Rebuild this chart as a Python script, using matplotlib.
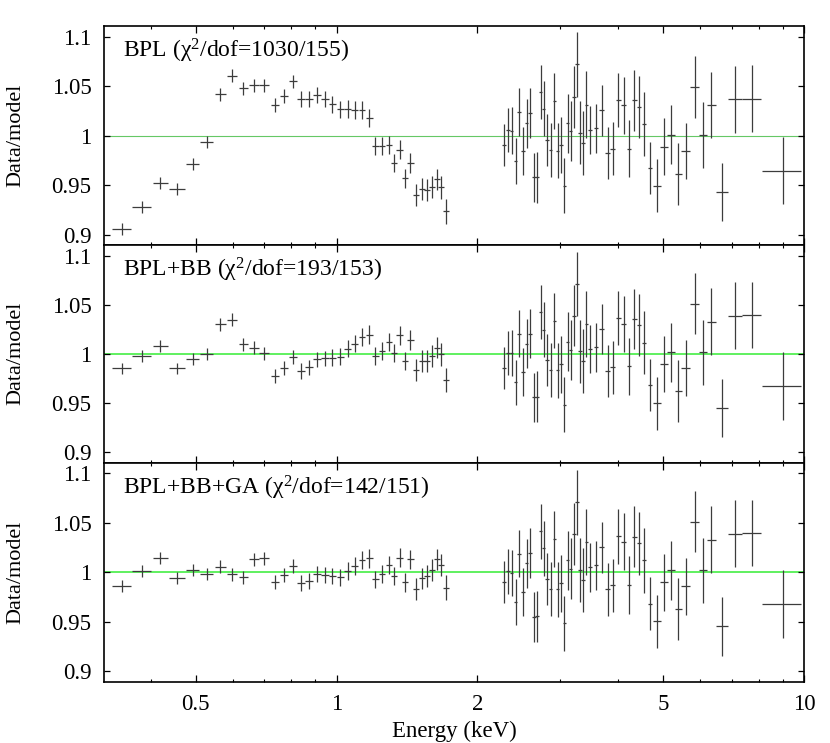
import matplotlib
matplotlib.use("Agg")
import matplotlib.pyplot as plt
from matplotlib.ticker import FixedLocator, NullFormatter, FixedFormatter

plt.rcParams['font.family'] = ['Liberation Serif', 'DejaVu Serif']
plt.rcParams['mathtext.fontset'] = 'custom'
plt.rcParams['mathtext.rm'] = 'Liberation Serif'
plt.rcParams['mathtext.it'] = 'Liberation Serif:italic'

# ---------------- data ----------------
energy_soft = [0.347, 0.383, 0.420, 0.455, 0.492, 0.527, 0.564, 0.598, 0.632, 0.666,
               0.700, 0.738, 0.772, 0.807, 0.839, 0.873, 0.909, 0.944, 0.979, 1.018,
               1.056, 1.094, 1.133, 1.176, 1.211, 1.252, 1.293, 1.329, 1.364, 1.404,
               1.439, 1.480, 1.522, 1.560, 1.598, 1.641, 1.676, 1.715]
ewidth_soft = [0.017, 0.0175, 0.0155, 0.018, 0.015, 0.017, 0.0155, 0.015, 0.015, 0.016,
               0.016, 0.0155, 0.016, 0.016, 0.017, 0.017, 0.017, 0.017, 0.017, 0.017,
               0.017, 0.018, 0.018, 0.019, 0.019, 0.020, 0.020, 0.020, 0.021, 0.021,
               0.022, 0.022, 0.023, 0.023, 0.024, 0.024, 0.025, 0.025]
err_soft = [0.006, 0.006, 0.006, 0.006, 0.006, 0.006, 0.0065, 0.0065, 0.0065, 0.0065,
            0.0065, 0.007, 0.007, 0.007, 0.008, 0.008, 0.008, 0.008, 0.0085, 0.0085,
            0.009, 0.009, 0.009, 0.0095, 0.009, 0.009, 0.009, 0.009, 0.0095, 0.0095,
            0.010, 0.011, 0.011, 0.011, 0.011, 0.011, 0.0115, 0.0125]

energy_hard = [2.282, 2.327, 2.369, 2.416, 2.457, 2.505, 2.551, 2.593, 2.645, 2.685,
               2.733, 2.773, 2.819, 2.871, 2.923, 2.971, 3.021, 3.071, 3.122, 3.168,
               3.220, 3.268, 3.317, 3.366, 3.421, 3.489, 3.589, 3.690, 3.801, 3.895,
               4.005, 4.111, 4.222, 4.334, 4.441, 4.551, 4.680, 4.844, 5.022, 5.197,
               5.381, 5.587, 5.832, 6.074, 6.339, 6.685, 7.125, 7.735, 9.0]
ewidth_hard = [0.018, 0.019, 0.019, 0.019, 0.020, 0.020, 0.020, 0.021, 0.021, 0.021,
               0.022, 0.022, 0.023, 0.023, 0.023, 0.024, 0.024, 0.025, 0.025, 0.025,
               0.026, 0.026, 0.027, 0.027, 0.028, 0.035, 0.040, 0.042, 0.043, 0.044,
               0.045, 0.046, 0.048, 0.049, 0.050, 0.051, 0.053, 0.088, 0.092, 0.095,
               0.093, 0.129, 0.135, 0.125, 0.137, 0.195, 0.245, 0.365, 0.865]
err_hard = [0.0212, 0.0226, 0.0235, 0.0232, 0.024, 0.0244, 0.0247, 0.0252, 0.025, 0.0256,
            0.0274, 0.0278, 0.0266, 0.0273, 0.0283, 0.0278, 0.0286, 0.0281, 0.030, 0.0306,
            0.0313, 0.0328, 0.0322, 0.0325, 0.0337, 0.0244, 0.025, 0.0258, 0.0264, 0.0268,
            0.0276, 0.0286, 0.029, 0.0306, 0.0315, 0.0325, 0.0266, 0.0271, 0.0288, 0.0298,
            0.0313, 0.0286, 0.0311, 0.033, 0.0337, 0.0296, 0.034, 0.0335, 0.0342]

ratio_bpl_soft = [0.906, 0.928, 0.952, 0.946, 0.972, 0.994, 1.042, 1.061, 1.048, 1.051,
                  1.051, 1.031, 1.040, 1.055, 1.037, 1.037, 1.041, 1.037, 1.032, 1.027,
                  1.027, 1.026, 1.026, 1.018, 0.990, 0.990, 0.991, 0.973, 0.986, 0.957,
                  0.973, 0.940, 0.946, 0.945, 0.948, 0.956, 0.948, 0.924]
ratio_bpl_hard = [0.991, 1.006, 1.0054, 0.975, 1.0239, 0.9848, 1.0128, 1.0232, 0.9582, 0.9582,
                  1.0444, 1.0273, 0.996, 0.9859, 1.0354, 0.9848, 0.9909, 0.9498, 1.0128, 1.0051,
                  1.0397, 1.0724, 1.0034, 0.9929, 1.0316, 1.006, 1.0077, 1.026, 0.9828, 0.9869,
                  1.0364, 1.031, 0.9872, 1.036, 1.0293, 1.0118, 0.9677, 0.9498, 0.9892, 1.001,
                  0.962, 0.9848, 1.0495, 1.001, 1.0313, 0.9434, 1.037, 1.0377, 0.965]

ratio_bb_soft = [0.9855, 0.998, 1.0081, 0.9855, 0.9953, 1.0, 1.0303, 1.035, 1.0101, 1.0064,
                 1.0007, 0.9778, 0.9862, 0.9973, 0.9828, 0.9865, 0.9946, 0.9956, 0.9963, 0.9973,
                 1.0057, 1.0108, 1.0175, 1.0199, 0.9983, 1.003, 1.0125, 1.0013, 1.0192, 0.9929,
                 1.0142, 0.9838, 0.9929, 0.9929, 0.998, 1.0067, 0.9997, 0.9737]
ratio_bb_hard = [0.9858, 1.001, 1.001, 0.9713, 1.0206, 0.9821, 1.0108, 1.0209, 0.9561, 0.9568,
                 1.0428, 1.025, 0.9943, 0.9841, 1.0341, 0.9835, 0.9895, 0.9487, 1.0125, 1.004,
                 1.0391, 1.0715, 1.0027, 0.9926, 1.031, 1.0057, 1.0071, 1.0256, 0.9828, 0.9865,
                 1.0364, 1.031, 0.9875, 1.0361, 1.0297, 1.0118, 0.9683, 0.950, 0.9899, 1.0017,
                 0.9626, 0.9858, 1.0513, 1.002, 1.0331, 0.945, 1.0391, 1.0398, 0.9676]

ratio_ga_soft = [0.9865, 1.0013, 1.0141, 0.9939, 1.0024, 0.9983, 1.0057, 0.998, 0.995, 1.0131,
                 1.0141, 0.9906, 0.9973, 1.0064, 0.9896, 0.9916, 0.9983, 0.9973, 0.9963, 0.995,
                 1.0013, 1.0064, 1.0125, 1.0141, 0.9929, 0.998, 1.0074, 0.9963, 1.0148, 0.9899,
                 1.0131, 0.9832, 0.9939, 0.9963, 1.0024, 1.0131, 1.0074, 0.9845]
ratio_ga_hard = [0.9902, 1.001, 0.9993, 0.9697, 1.0189, 0.9805, 1.0094, 1.0195, 0.9549, 0.9556,
                 1.0414, 1.0242, 0.9933, 0.9835, 1.0333, 0.9828, 0.9889, 0.9485, 1.0121, 1.0037,
                 1.0384, 1.071, 1.0027, 0.9923, 1.0306, 1.0051, 1.0071, 1.0253, 0.9828, 0.9869,
                 1.0364, 1.031, 0.9872, 1.036, 1.0293, 1.0121, 0.9684, 0.9505, 0.9899, 1.002,
                 0.963, 0.9859, 1.0512, 1.002, 1.033, 0.9455, 1.039, 1.040, 0.968]

panel_labels = ["BPL (χ$^{2}$/dof=1030/155)",
                "BPL+BB (χ$^{2}$/dof=193/153)",
                "BPL+BB+GA (χ$^{2}$/dof=142/151)"]
panel_soft = [ratio_bpl_soft, ratio_bb_soft, ratio_ga_soft]
panel_hard = [ratio_bpl_hard, ratio_bb_hard, ratio_ga_hard]

ytick_vals = [0.9, 0.95, 1.0, 1.05, 1.1]
ytick_labels = ["0.9", "0.95", "1", "1.05", "1.1"]
xtick_vals = [0.5, 1, 2, 5, 10]
xtick_labels = ["0.5", "1", "2", "5", "10"]
xminor_vals = [0.4, 0.6, 0.7, 0.8, 0.9, 3, 4, 6, 7, 8, 9]

# ---------------- figure ----------------
W, H = 830, 743
fig = plt.figure(figsize=(W / 100, H / 100), dpi=100)

left, right = 104 / W, 804 / W
tops = [26, 245, 462.5]
bottoms = [245, 462.5, 681.5]

FS = 16.5
line_styles = [dict(color='#66c866', lw=0.8), dict(color='#44ee44', lw=1.2), dict(color='#44ee44', lw=1.2)]
bar_color = '#3c3c3c'

for i in range(3):
    ax = fig.add_axes([left, 1 - bottoms[i] / H, right - left, (bottoms[i] - tops[i]) / H])
    ax.set_xscale('log')
    ax.set_xlim(0.318, 10.0)
    ax.set_ylim(0.8898, 1.111)
    ax.axhline(1.0, zorder=1, **line_styles[i])
    ax.errorbar(energy_soft, panel_soft[i], xerr=ewidth_soft, yerr=err_soft,
                fmt='none', ecolor=bar_color, elinewidth=0.9, capsize=0, zorder=3)
    ax.errorbar(energy_hard, panel_hard[i], xerr=ewidth_hard, yerr=err_hard,
                fmt='none', ecolor=bar_color, elinewidth=0.9, capsize=0, zorder=3)

    ax.yaxis.set_major_locator(FixedLocator(ytick_vals))
    ax.yaxis.set_major_formatter(FixedFormatter(ytick_labels))
    ax.yaxis.set_minor_locator(FixedLocator([]))
    ax.xaxis.set_major_locator(FixedLocator(xtick_vals))
    ax.xaxis.set_minor_locator(FixedLocator(xminor_vals))
    ax.xaxis.set_minor_formatter(NullFormatter())
    if i == 2:
        ax.xaxis.set_major_formatter(FixedFormatter(xtick_labels))
        ax.set_xlabel("Energy (keV)", fontsize=FS, labelpad=4)
    else:
        ax.xaxis.set_major_formatter(NullFormatter())

    ax.tick_params(which='both', direction='in', top=True, right=True, labelsize=FS)
    ax.tick_params(axis='x', which='major', length=5, width=0.9, pad=9)
    ax.tick_params(axis='x', which='minor', length=2.5, width=0.8)
    ax.tick_params(axis='y', which='major', length=4, width=0.9, pad=9)
    for sp in ax.spines.values():
        sp.set_linewidth(1.2)

    ax.set_ylabel("Data/model", fontsize=16)
    ax.yaxis.set_label_coords(-0.113, 0.5)
    ax.text(0.027, 0.885, panel_labels[i], transform=ax.transAxes,
            fontsize=17, ha='left', va='center')

fig.savefig("out.png", dpi=100)
